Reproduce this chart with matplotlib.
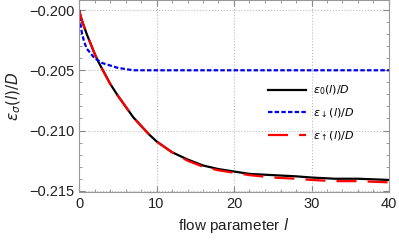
import matplotlib.pyplot as plt
from matplotlib.ticker import MultipleLocator

# values
l_vals = [0, 0.25, 0.5, 1, 1.5, 2, 2.5, 3, 4, 5, 6, 7, 8, 9, 10, 12, 14, 16, 18,
          20, 22, 25, 28, 30, 33, 36, 40]
eps0 = [-0.2000, -0.2006, -0.2011, -0.2020, -0.2028, -0.2036, -0.2043, -0.2049,
        -0.2061, -0.2071, -0.2080, -0.2089, -0.2096, -0.2103, -0.2109, -0.2118,
        -0.2124, -0.2129, -0.2132, -0.2134, -0.2136, -0.2137, -0.2138, -0.2139,
        -0.2140, -0.2140, -0.2141]
eps_up = [-0.2000, -0.2006, -0.2011, -0.2020, -0.2028, -0.2036, -0.2043, -0.2049,
          -0.2061, -0.2071, -0.2080, -0.2089, -0.2096, -0.2103, -0.2109, -0.2118,
          -0.2125, -0.2130, -0.2133, -0.2135, -0.2137, -0.2139, -0.2140, -0.2141,
          -0.2142, -0.2142, -0.2143]
l_dn = [0, 0.2, 0.4, 0.7, 1, 1.5, 2, 2.5, 3, 4, 5, 6, 7, 8, 10, 15, 20, 30, 40]
eps_dn = [-0.2000, -0.2012, -0.2020, -0.2027, -0.2032, -0.2036, -0.2040, -0.2042,
          -0.2044, -0.2046, -0.2048, -0.2049, -0.2050, -0.2050, -0.2050, -0.2050,
          -0.2050, -0.2050, -0.2050]

plt.rcParams['font.family'] = ['Liberation Sans', 'DejaVu Sans']
plt.rcParams['mathtext.fontset'] = 'dejavusans'

fig = plt.figure(figsize=(3.99, 2.44), dpi=100)
ax = fig.add_axes([79/399, 1-192/244, 310/399, 192/244])

ax.plot(l_vals, eps0, color='black', lw=1.6, label=r'$\epsilon_0(l)/D$')
ax.plot(l_dn, eps_dn, color='#0000ee', lw=1.6, ls=(0, (2, 1)), label=r'$\epsilon_\downarrow(l)/D$')
ax.plot(l_vals, eps_up, color='red', lw=1.6, ls=(0, (9, 5)), label=r'$\epsilon_\uparrow(l)/D$')

ax.set_xlim(0, 40)
ax.set_ylim(-0.21510, -0.19917)
ax.xaxis.set_major_locator(MultipleLocator(10))
ax.xaxis.set_minor_locator(MultipleLocator(2))
ax.yaxis.set_major_locator(MultipleLocator(0.005))
ax.yaxis.set_minor_locator(MultipleLocator(0.001))
ax.yaxis.set_major_formatter(plt.FuncFormatter(lambda v, p: '\u2212%.3f' % abs(v)))
ax.tick_params(which='both', direction='in', top=True, right=True, color='#888888',
               labelsize=10.5, labelcolor='#222222')
ax.tick_params(which='major', length=4)
ax.tick_params(which='minor', length=2)
for s in ax.spines.values():
    s.set_color('#999999')
ax.grid(True, color='#bbbbbb', ls=':', lw=0.8)

ax.set_xlabel('flow parameter $l$', fontsize=11, color='#222222')
ax.set_ylabel(r'$\epsilon_\sigma(l)/D$', fontsize=11, color='#222222')

ax.legend(loc='center right', bbox_to_anchor=(0.92, 0.41), frameon=False, fontsize=8,
          handlelength=3.4, labelspacing=0.85, handletextpad=0.6)

fig.savefig('out.png', dpi=100)
